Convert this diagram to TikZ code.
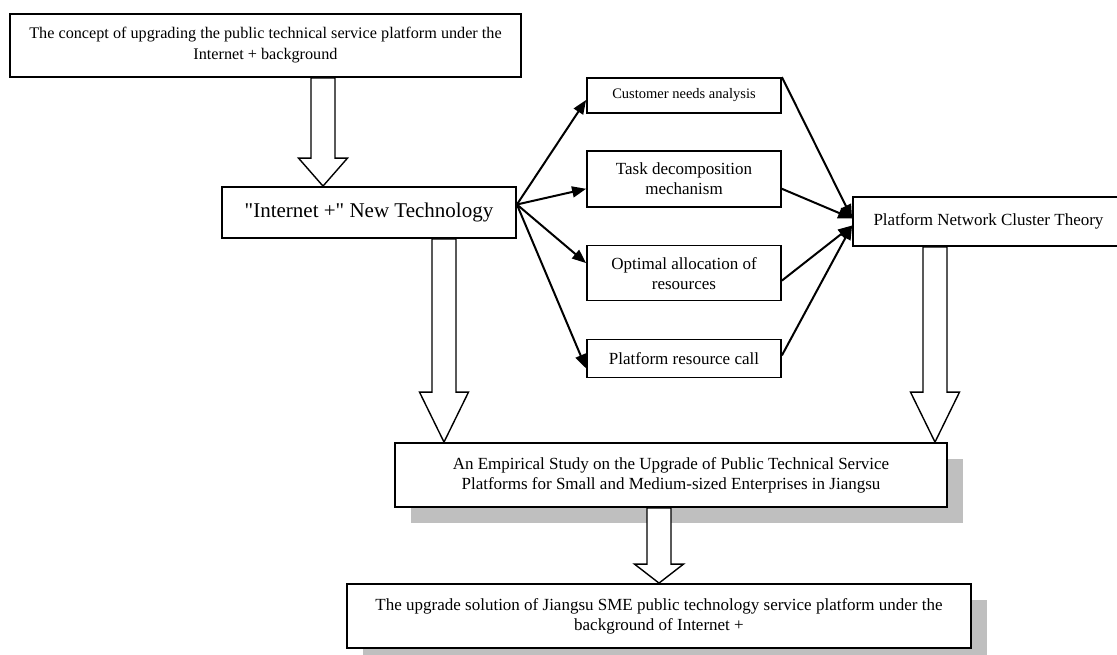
\documentclass[tikz,border=0pt]{standalone}
\usepackage{fontspec}
\setmainfont{Liberation Serif}
\usetikzlibrary{arrows.meta, positioning, calc, shadows}

% hollow block arrow: x, from anchor, to anchor, head length
\newcommand{\bigarrow}[4]{%
  \draw [hollow] ($(#1,0 |- #2)+(-12,0)$) -- ($(#1,0 |- #3)+(-12,-#4)$) -- ++(-12.5,0) -- (#1,0 |- #3)
    -- ($(#1,0 |- #3)+(24.5,-#4)$) -- ++(-12.5,0) -- ($(#1,0 |- #2)+(12,0)$) -- cycle;}

\begin{document}
\begin{tikzpicture}[x=1pt, y=-1pt, >={Triangle[length=14pt,width=11pt]}, font=\fontsize{17}{20}\selectfont]
    \tikzstyle{box} = [rectangle, draw, line width=1.8pt, fill=white, align=center, inner sep=0pt]
    \tikzstyle{shbox} = [box, drop shadow={shadow xshift=16pt, shadow yshift=-16pt, fill=black!25, opacity=1}]
    \tikzstyle{hollow} = [draw, line width=1.4pt, fill=white, line join=miter]
    \tikzstyle{link} = [->, line width=2pt]

    \useasboundingbox (0,0) rectangle (1117,655);

    % Left column
    \node [box, minimum width=511pt, minimum height=63pt, font=\fontsize{16.2}{21}\selectfont] (concept) at (265.5,45.5) {The concept of upgrading the public technical service platform under the\\ Internet + background};
    \node [box, minimum width=294pt, minimum height=51pt, font=\fontsize{21}{24}\selectfont] (inet) at (369,212.5) {\textquotedbl Internet +\textquotedbl{} New Technology};

    % Middle column
    \node [box, minimum width=194pt, minimum height=35pt, font=\fontsize{14.5}{17}\selectfont] (needs) at (684,95.5) {Customer needs analysis};
    \node [box, minimum width=194pt, minimum height=56pt, below=36pt of needs] (task) {Task decomposition\\ mechanism};
    \node [box, minimum width=194pt, minimum height=55pt, below=37pt of task] (alloc) {Optimal allocation of\\ resources};
    \node [box, minimum width=194pt, minimum height=38pt, below=37pt of alloc] (call) {Platform resource call};

    % Right column
    \node [box, minimum width=271pt, minimum height=49pt] (cluster) at (988.5,221.5) {Platform Network Cluster Theory};

    % Bottom
    \node [shbox, minimum width=552pt, minimum height=64pt] (study) at (671,475) {An Empirical Study on the Upgrade of Public Technical Service\\ Platforms for Small and Medium-sized Enterprises in Jiangsu};
    \node [shbox, minimum width=624pt, minimum height=64pt] (solution) at (659,616) {The upgrade solution of Jiangsu SME public technology service platform under the\\ background of Internet +};

    % Fan out
    \coordinate (fan) at ($(inet.east)+(0,-8)$);
    \draw [link] (fan) -- ($(needs.west)+(0,4.5)$);
    \draw [link] (fan) -- ($(task.west)+(0,10)$);
    \draw [link] (fan) -- ($(alloc.west)+(0,-10)$);
    \draw [link] (fan) -- ($(call.west)+(0,10)$);

    % Fan in
    \draw [link] (needs.north east) -- ($(cluster.west)+(0,-3)$);
    \draw [link] ($(task.east)+(0,10)$) -- ($(cluster.west)+(0,-3)$);
    \draw [link] ($(alloc.east)+(0,7.5)$) -- ($(cluster.west)+(0,4)$);
    \draw [link] ($(call.east)+(0,-3)$) -- ($(cluster.west)+(0,4)$);

    % Block arrows
    \bigarrow{323}{concept.south}{inet.north}{28}
    \bigarrow{444}{inet.south}{study.north}{50}
    \bigarrow{935}{cluster.south}{study.north}{50}
    \bigarrow{659}{study.south}{solution.north}{19}
\end{tikzpicture}
\end{document}
